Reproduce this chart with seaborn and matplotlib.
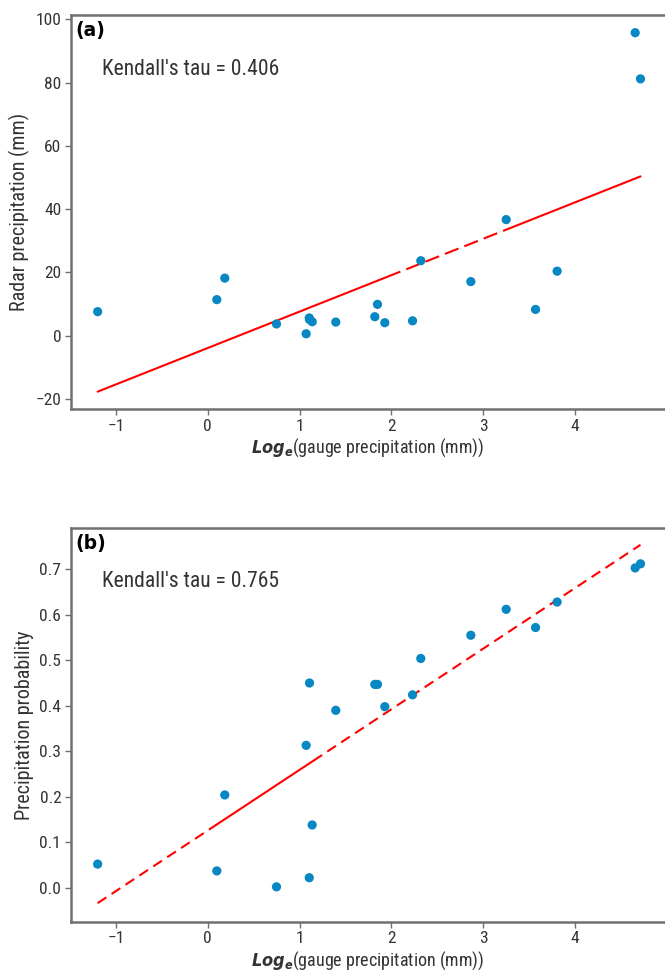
import numpy as np
import pandas as pd
import matplotlib
matplotlib.use("Agg")
import matplotlib.pyplot as plt
import seaborn as sns

# log of gauge precipitation for each event
log_gauge = [-1.20, 0.098, 0.185, 0.748, 1.071, 1.105, 1.108, 1.137, 1.394, 1.819,
             1.848, 1.928, 2.23, 2.32, 2.865, 3.25, 3.57, 3.805, 4.655, 4.713]
# radar precipitation (mm)
radar_mm = [7.6, 11.4, 18.2, 3.7, 0.6, 5.6, 5.1, 4.4, 4.3, 6.0,
            9.9, 4.1, 4.7, 23.7, 17.1, 36.7, 8.3, 20.4, 95.8, 81.2]
# precipitation probability
precip_prob = [0.052, 0.037, 0.204, 0.002, 0.313, 0.022, 0.450, 0.138, 0.390, 0.447,
               0.447, 0.398, 0.424, 0.504, 0.555, 0.612, 0.572, 0.628, 0.703, 0.712]

# fitted lines: intercept, slope, and where the line style changes
fit_a = (-3.89, 11.51)
fit_b = (0.126, 0.1332)
breaks_a = [1.95, 3.27]
breaks_b = [0.095, 1.15]
styles_a = ["solid", "dashed", "solid"]
styles_b = ["dashed", "solid", "dashed"]

tau_a = 0.406
tau_b = 0.765

x_ticks = [-1, 0, 1, 2, 3, 4]
y_ticks_a = [-20, 0, 20, 40, 60, 80, 100]
y_ticks_b = [0.0, 0.1, 0.2, 0.3, 0.4, 0.5, 0.6, 0.7]

sns.set_style("ticks")
NARROW = ["DejaVu Sans Condensed", "Liberation Sans Narrow", "Roboto Condensed", "Roboto"]
plt.rcParams["font.family"] = NARROW + ["DejaVu Sans"]
plt.rcParams["font.stretch"] = "condensed"
plt.rcParams["mathtext.fontset"] = "custom"
plt.rcParams["mathtext.it"] = "DejaVu Sans:italic:bold"
plt.rcParams["mathtext.rm"] = "DejaVu Sans"

POINT = "#0787c3"
SPINE = "#707070"
TEXT = "#333333"

df = pd.DataFrame({"x": log_gauge, "radar": radar_mm, "prob": precip_prob})

fig = plt.figure(figsize=(6.65, 9.73), dpi=100)
ax_a = fig.add_axes([0.1068, 0.5796, 0.8932, 0.4050])
ax_b = fig.add_axes([0.1068, 0.0527, 0.8932, 0.4043])


def draw_fit(ax, fit, breaks, styles, dash):
    x0, x1 = min(log_gauge), max(log_gauge)
    edges = [x0] + breaks + [x1]
    for (a, b), ls in zip(zip(edges[:-1], edges[1:]), styles):
        xs = np.array([a, b])
        ys = fit[0] + fit[1] * xs
        line, = ax.plot(xs, ys, color="#ff0000", lw=1.5, zorder=2)
        if ls == "dashed":
            line.set_dashes(dash)


def style_axes(ax, yticks, ylim, ylabel, fmt):
    ax.set_xlim(-1.49, 4.98)
    ax.set_ylim(*ylim)
    ax.set_xticks(x_ticks)
    ax.set_yticks(yticks)
    ax.set_xticklabels([f"{t:d}".replace("-", "\u2212") for t in x_ticks])
    ax.set_yticklabels([fmt(t).replace("-", "\u2212") for t in yticks])
    ax.tick_params(axis="both", colors=SPINE, labelcolor=TEXT, labelsize=12.5,
                   length=4, width=1.0, direction="out", pad=3)
    for side in ["left", "top", "bottom"]:
        ax.spines[side].set_color(SPINE)
        ax.spines[side].set_linewidth(1.8)
    ax.spines["right"].set_visible(False)
    ax.set_ylabel(ylabel, fontsize=14.5, color=TEXT, labelpad=4)
    ax.set_xlabel(r"$\mathit{Log}_{\mathit{e}}$(gauge precipitation (mm))",
                  fontsize=13, color=TEXT, labelpad=2)


# panel (a)
sns.scatterplot(data=df, x="x", y="radar", ax=ax_a, color=POINT, s=44,
                edgecolor="none", zorder=3)
draw_fit(ax_a, fit_a, breaks_a, styles_a, (7, 3))
style_axes(ax_a, y_ticks_a, (-23.2, 101.4), "Radar precipitation (mm)",
           lambda t: f"{t:d}")
ax_a.text(0.007, 0.985, "(a)", transform=ax_a.transAxes, fontsize=13.5,
          fontweight="bold", family="DejaVu Sans", stretch="normal",
          va="top", ha="left", color="black")
ax_a.text(0.052, 0.862, f"Kendall's tau = {tau_a:.3f}", transform=ax_a.transAxes,
          fontsize=15.5, color=TEXT, va="center", ha="left")

# panel (b)
sns.scatterplot(data=df, x="x", y="prob", ax=ax_b, color=POINT, s=44,
                edgecolor="none", zorder=3)
draw_fit(ax_b, fit_b, breaks_b, styles_b, (5, 3))
style_axes(ax_b, y_ticks_b, (-0.0747, 0.790), "Precipitation probability",
           lambda t: f"{t:.1f}")
ax_b.text(0.007, 0.985, "(b)", transform=ax_b.transAxes, fontsize=13.5,
          fontweight="bold", family="DejaVu Sans", stretch="normal",
          va="top", ha="left", color="black")
ax_b.text(0.052, 0.865, f"Kendall's tau = {tau_b:.3f}", transform=ax_b.transAxes,
          fontsize=15.5, color=TEXT, va="center", ha="left")

fig.savefig("out.png", dpi=100)
